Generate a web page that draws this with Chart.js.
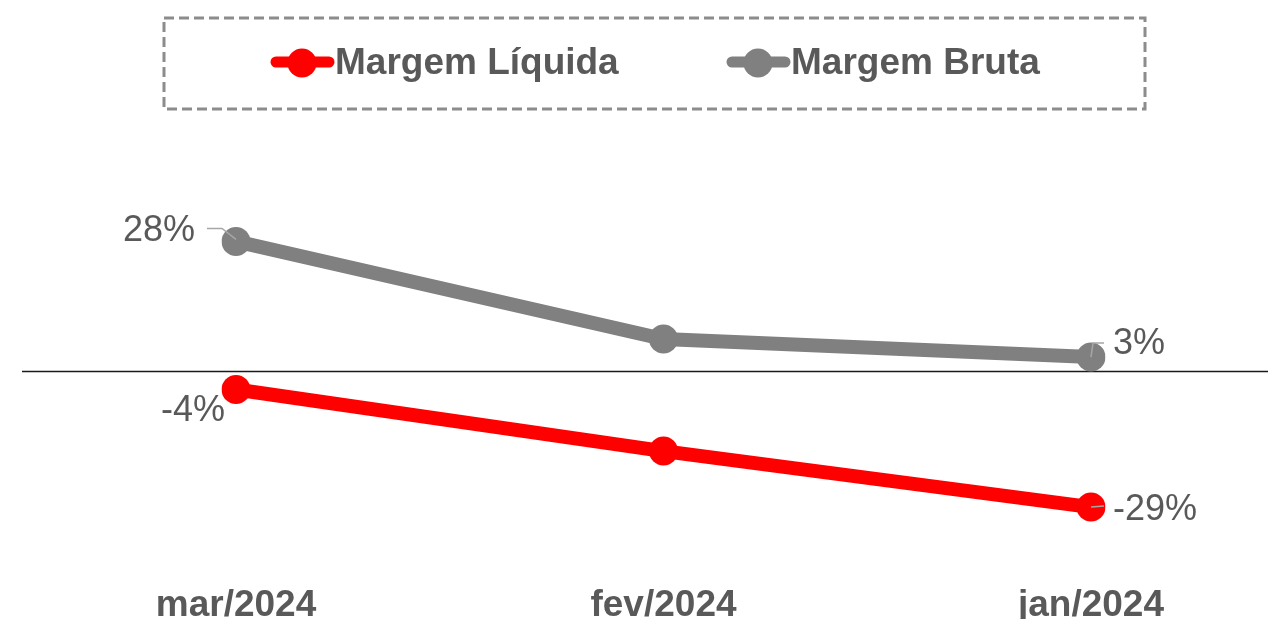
<!DOCTYPE html>
<html>
<head>
<meta charset="utf-8">
<script src="https://cdn.jsdelivr.net/npm/chart.js@4/dist/chart.umd.min.js"></script>
<style>
  html, body { margin: 0; padding: 0; background: #fff; }
  #wrap { width: 1268px; height: 619px; }
</style>
</head>
<body>
<div id="wrap"><canvas id="chart" width="1268" height="619"></canvas></div>
<script>
// Data
const months = ['mar/2024', 'fev/2024', 'jan/2024'];
const margemLiquida = [-4, -17.3, -29.4];
const margemBruta = [28, 6.9, 3];
const labeledPoints = [0, 2]; // only first and last points carry a value label

const TEXT = '#595959';
const FONT = "'Liberation Sans', Arial, sans-serif";

// Legend drawn on the canvas (dashed box)
const legendBox = {
    id: 'legendBox',
    afterDraw(chart) {
        const c = chart.ctx;
        c.save();
        c.setLineDash([10, 5]);
        c.lineWidth = 3;
        c.strokeStyle = '#8c8c8c';
        c.strokeRect(164, 18, 981, 91);
        c.setLineDash([]);

        c.font = 'bold 37px ' + FONT;
        const starts = [271, 727];
        const y = 63;
        chart.data.datasets.forEach((ds, i) => {
            const x = starts[i];
            c.strokeStyle = ds.borderColor;
            c.lineWidth = 11;
            c.lineCap = 'round';
            c.beginPath();
            c.moveTo(x + 5, y - 1);
            c.lineTo(x + 58, y - 1);
            c.stroke();
            c.fillStyle = ds.borderColor;
            c.beginPath();
            c.arc(x + 31, y, 14.5, 0, Math.PI * 2);
            c.fill();
            c.fillStyle = TEXT;
            c.textAlign = 'left';
            c.textBaseline = 'middle';
            c.fillText(ds.label, x + 64, y + 1);
        });
        c.restore();
    }
};

// Zero line across the full width
const zeroLine = {
    id: 'zeroLine',
    beforeDatasetsDraw(chart) {
        const c = chart.ctx;
        const y0 = Math.round(chart.scales.y.getPixelForValue(0)) + 0.5;
        c.save();
        c.strokeStyle = '#1a1a1a';
        c.lineWidth = 1.5;
        c.beginPath();
        c.moveTo(22, y0);
        c.lineTo(chart.width, y0);
        c.stroke();
        c.restore();
    }
};

// Category labels placed from the x scale (baseline near the bottom edge)
const xLabels = {
    id: 'xLabels',
    afterDraw(chart) {
        const c = chart.ctx;
        const sx = chart.scales.x;
        c.save();
        c.font = 'bold 37px ' + FONT;
        c.fillStyle = TEXT;
        c.textAlign = 'center';
        c.textBaseline = 'alphabetic';
        sx.ticks.forEach((t, i) => {
            c.fillText(sx.getLabelForValue(t.value), sx.getPixelForTick(i), 616);
        });
        c.restore();
    }
};

// Value labels with small leader lines
const valueLabels = {
    id: 'valueLabels',
    afterDatasetsDraw(chart) {
        const c = chart.ctx;
        c.save();
        c.font = '36px ' + FONT;
        c.fillStyle = TEXT;
        c.textBaseline = 'middle';
        chart.data.datasets.forEach((ds, di) => {
            const meta = chart.getDatasetMeta(di);
            labeledPoints.forEach(i => {
                const p = meta.data[i];
                const v = ds.data[i];
                const txt = Math.round(v) + '%';
                const first = i === 0;
                const above = v >= 0;
                let tx, ty;
                c.strokeStyle = '#a6a6a6';
                c.lineWidth = 1.5;
                if (first && above) {
                    tx = p.x - 41; ty = p.y - 10;
                    c.beginPath();
                    c.moveTo(p.x - 29, p.y - 13);
                    c.lineTo(p.x - 14, p.y - 13);
                    c.lineTo(p.x, p.y - 2);
                    c.stroke();
                    c.textAlign = 'right';
                } else if (first) {
                    tx = p.x - 11; ty = p.y + 22;
                    c.textAlign = 'right';
                } else if (above) {
                    tx = p.x + 22; ty = p.y - 13;
                    c.beginPath();
                    c.moveTo(p.x, p.y);
                    c.lineTo(p.x + 2, p.y - 14);
                    c.lineTo(p.x + 13, p.y - 14);
                    c.stroke();
                    c.textAlign = 'left';
                } else {
                    tx = p.x + 22; ty = p.y + 3;
                    c.beginPath();
                    c.moveTo(p.x, p.y);
                    c.lineTo(p.x + 13, p.y - 1);
                    c.stroke();
                    c.textAlign = 'left';
                }
                c.fillText(txt, tx, ty);
            });
        });
        c.restore();
    }
};

const ctx = document.getElementById('chart').getContext('2d');
const chart = new Chart(ctx, {
    type: 'line',
    data: {
        labels: months,
        datasets: [{
            label: 'Margem Líquida',
            data: margemLiquida,
            borderColor: '#ff0000',
            backgroundColor: '#ff0000',
            borderWidth: 14,
            pointRadius: 14.5,
            pointBorderWidth: 0,
            tension: 0
        }, {
            label: 'Margem Bruta',
            data: margemBruta,
            borderColor: '#808080',
            backgroundColor: '#808080',
            borderWidth: 14,
            pointRadius: 14.5,
            pointBorderWidth: 0,
            tension: 0
        }]
    },
    options: {
        responsive: false,
        animation: false,
        layout: {
            padding: { top: 209, left: 236, right: 177, bottom: 86 }
        },
        plugins: {
            legend: { display: false },
            tooltip: { enabled: false }
        },
        scales: {
            x: {
                offset: false,
                grid: { display: false, drawTicks: false },
                border: { display: false },
                ticks: { display: false }
            },
            y: {
                display: false,
                min: -35,
                max: 35
            }
        }
    },
    plugins: [legendBox, zeroLine, xLabels, valueLabels]
});
</script>
</body>
</html>
